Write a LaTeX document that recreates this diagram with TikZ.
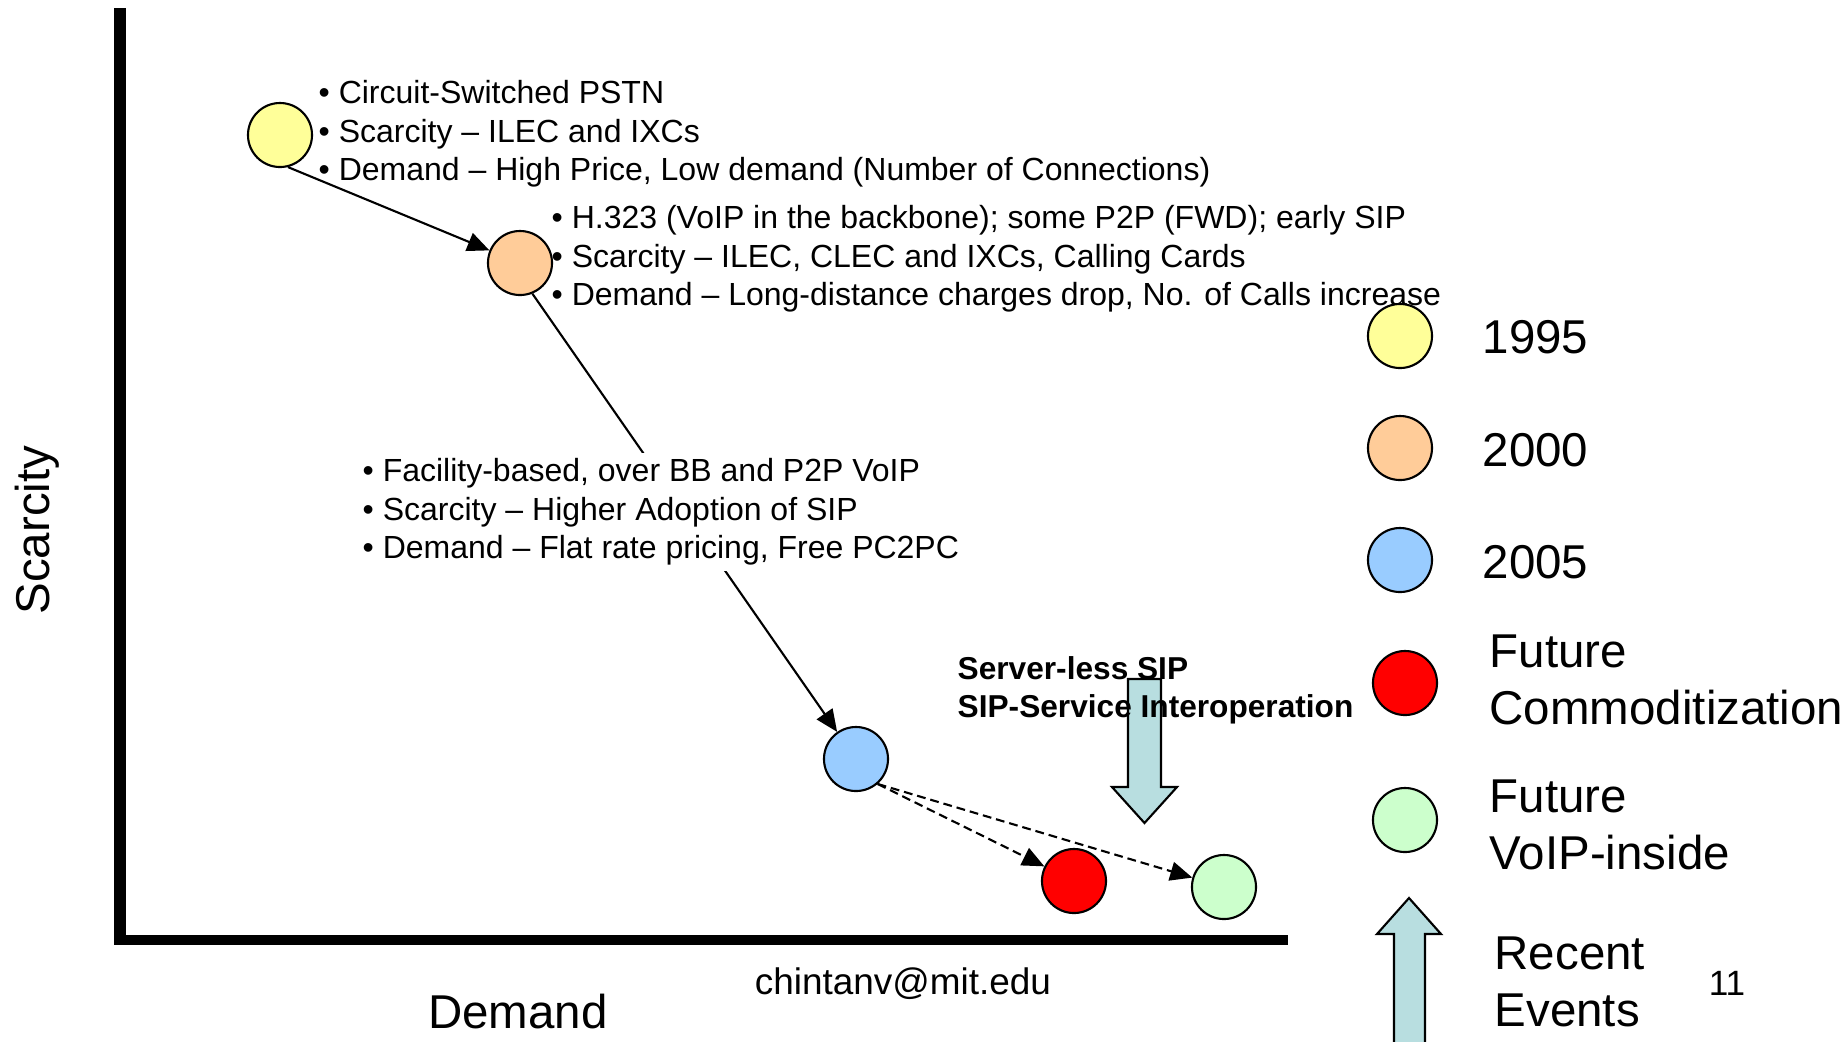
\documentclass[tikz,border=0pt]{standalone}
\usepackage{fontspec}
\setmainfont{Liberation Sans}
\usepackage{xcolor}
\usetikzlibrary{arrows.meta, positioning}

\definecolor{c1995}{HTML}{FFFF99}
\definecolor{c2000}{HTML}{FFCC99}
\definecolor{c2005}{HTML}{99CCFF}
\definecolor{cComm}{HTML}{FF0000}
\definecolor{cInside}{HTML}{CCFFCC}
\definecolor{cEvent}{HTML}{B8DEE0}

\begin{document}
\begin{tikzpicture}[x=0.01cm, y=-0.01cm, >={Triangle[length=0.22cm, width=0.19cm]},
    dot/.style={circle, draw, line width=0.6pt, minimum size=0.64cm, inner sep=0pt},
    bul/.style={anchor=west, align=left, inner sep=0pt, font=\fontsize{9.1}{10.9}\selectfont},
    lgd/.style={anchor=west, align=left, inner sep=0pt, font=\fontsize{13.5}{16.1}\selectfont},
    big/.style={font=\fontsize{13.5}{16}\selectfont},
    fat/.style={draw, line width=0.6pt, fill=cEvent}]
    \useasboundingbox (0,0) rectangle (1847,1041);

    % 1. Axes
    \draw[line width=3.4pt] (120,8) -- (120,945);
    \draw[line width=2.9pt] (114,940) -- (1288,940);
    \node[big, rotate=90, anchor=base] (ylab) at (50,530) {Scarcity};
    \node[big, anchor=base] (xlab) at (518,1028) {Demand};

    % 2. Eras
    \node[dot, fill=c1995] (y95) at (280,135) {};
    \node[dot, fill=c2000] (o00) at (520,263) {};
    \node[dot, fill=c2005] (b05) at (856,759) {};
    \node[dot, fill=cComm] (rC) at (1074,881) {};
    \node[dot, fill=cInside] (gV) at (1224,887) {};

    \draw[->, line width=0.6pt] (y95.-76) -- (o00);
    \draw[->, line width=0.6pt] (o00.-68) -- (b05);
    \draw[->, line width=0.6pt, dash pattern=on 2.5pt off 1.4pt] (b05.-49) -- (rC);
    \draw[->, line width=0.6pt, dash pattern=on 2.5pt off 1.4pt] (b05.-49) -- (gV);

    % 3. Bullet texts
    \node[bul] (t95) at (318,134) {• Circuit-Switched PSTN\\• Scarcity – ILEC and IXCs\\• Demand – High Price, Low demand (Number of Connections)};
    \node[bul] (t00) at (551,259) {• H.323 (VoIP in the backbone); some P2P (FWD); early SIP\\• Scarcity – ILEC, CLEC and IXCs, Calling Cards\\• Demand – Long-distance charges drop, No. of Calls increase};
    \node[bul, fill=white, inner ysep=1.5pt] (t05) at (362,512) {• Facility-based, over BB and P2P VoIP\\• Scarcity – Higher Adoption of SIP\\• Demand – Flat rate pricing, Free PC2PC};

    % 4. Recent events
    \draw[fat] (1128,679) -- (1161,679) -- (1161,787) -- (1177,787) -- (1144.5,823) -- (1112,787) -- (1128,787) -- cycle;
    \node[anchor=west, align=left, inner sep=0pt, font=\fontsize{9}{10.8}\selectfont\bfseries] (evt) at (957,690) {Server-less SIP\\SIP-Service Interoperation};

    % 5. Legend
    \node[dot, fill=c1995] (k95) at (1400,336) {};
    \node[dot, fill=c2000] (k00) at (1400,448) {};
    \node[dot, fill=c2005] (k05) at (1400,560) {};
    \node[dot, fill=cComm] (kC) at (1405,683) {};
    \node[dot, fill=cInside] (kV) at (1405,820) {};
    \draw[fat] (1394,1050) -- (1394,934) -- (1377,934) -- (1409,898) -- (1441,934) -- (1425,934) -- (1425,1050) -- cycle;

    \node[lgd, anchor=base west] (l95) at (1482,353) {1995};
    \node[lgd, anchor=base west] (l00) at (1482,466) {2000};
    \node[lgd, anchor=base west] (l05) at (1482,578) {2005};
    \node[lgd] (lC) at (1489,680) {Future\\Commoditization};
    \node[lgd] (lV) at (1489,825) {Future\\VoIP-inside};
    \node[lgd] (lR) at (1494,982) {Recent\\Events};

    % 6. Footer
    \node[anchor=base, font=\fontsize{10.5}{12}\selectfont] (mail) at (903,994) {chintanv@mit.edu};
    \node[anchor=base, font=\fontsize{10}{12}\selectfont] (pg) at (1727,995) {11};
\end{tikzpicture}
\end{document}
